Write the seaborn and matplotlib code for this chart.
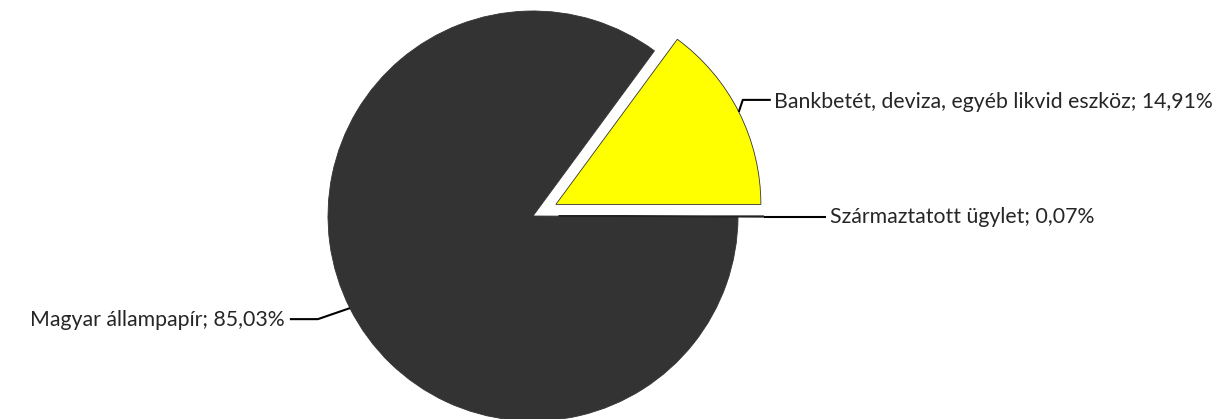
import numpy as np
import matplotlib
matplotlib.use("Agg")
import matplotlib.pyplot as plt
import seaborn as sns

labels = ["Bankbetét, deviza, egyéb likvid eszköz", "Magyar állampapír", "Származtatott ügylet"]
values = [14.91, 85.03, 0.07]
value_text = ["14,91%", "85,03%", "0,07%"]
colors = ["#FFFF00", "#333333", "#FFFFFF"]

sns.set_style("white")
plt.rcParams['font.family'] = ['Lato', 'DejaVu Sans']

W, H = 1229, 419
fig = plt.figure(figsize=(W / 100, H / 100), dpi=100)
ax = fig.add_axes([0, 0, 1, 1])
R = 205.0
cx, cy = 533.0, 216.0

explode = [0.125, 0.0, 0.125]
wedges, _ = ax.pie(values, colors=colors, startangle=0, counterclock=True,
                   explode=explode, radius=1.0,
                   wedgeprops=dict(edgecolor="#333333", linewidth=0.6))
wedges[2].set_edgecolor("#222222")
wedges[2].set_linewidth(1.0)

ax.set_xlim((0 - cx) / R, (W - cx) / R)
ax.set_ylim((cy - H) / R, cy / R)
ax.set_aspect("equal")
ax.axis("off")

px = 1.0 / R
fs = 15.3
for i, w in enumerate(wedges):
    mid = np.deg2rad((w.theta1 + w.theta2) / 2)
    ox, oy = w.center
    ax_ = ox + w.r * np.cos(mid)
    ay_ = oy + w.r * np.sin(mid)
    txt = f"{labels[i]}; {value_text[i]}"
    if i == 0:
        ex, ey = ax_ + 4 * px, ay_ + 12 * px
        hx = ex + 28 * px
        ax.plot([ax_, ex, hx], [ay_, ey, ey], color="black", lw=1.5, solid_capstyle="butt")
        ax.text(hx + 3 * px, ey - 2 * px, txt, ha="left", va="center", fontsize=fs)
    elif i == 1:
        ex, ey = ax_ - 32 * px, ay_ - 11 * px
        hx = ex - 28 * px
        ax.plot([ax_, ex, hx], [ay_, ey, ey], color="black", lw=1.5, solid_capstyle="butt")
        ax.text(hx - 5 * px, ey - 1 * px, txt, ha="right", va="center", fontsize=fs)
    else:
        hx = ax_ + 62 * px
        ax.plot([ax_, hx], [ay_, ay_], color="black", lw=1.5, solid_capstyle="butt")
        ax.text(hx + 4 * px, ay_, txt, ha="left", va="center", fontsize=fs)

fig.savefig("out.png", dpi=100)
